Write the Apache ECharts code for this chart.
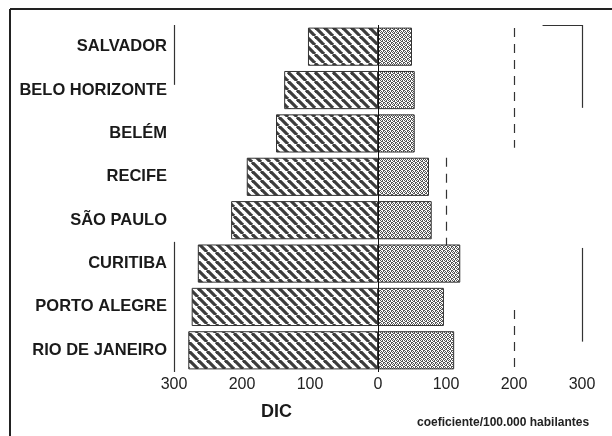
<!DOCTYPE html>
<html>
<head>
<meta charset="utf-8">
<script src="https://cdn.jsdelivr.net/npm/echarts@6/dist/echarts.min.js"></script>
<style>
  html, body { margin: 0; padding: 0; background: #fff; }
  #chart { width: 612px; height: 436px; }
</style>
</head>
<body>
<div id="chart"></div>
<script>
// dados
var cities = ["SALVADOR", "BELO HORIZONTE", "BELÉM", "RECIFE", "SÃO PAULO", "CURITIBA", "PORTO ALEGRE", "RIO DE JANEIRO"];
var dicValues = [103, 138, 150, 193, 216, 265, 274, 279];
var coefValues = [50, 54, 54, 75, 79, 121, 97, 112];
var xTicks = [-300, -200, -100, 0, 100, 200, 300];
// guias verticais: [x, inicio, fim] em unidades de categoria (0..8)
var dashedGuides = [[200, 0.07, 2.83], [200, 6.57, 8], [100, 3.06, 5.07]];
var solidGuides = [[300, 0, 1.91], [300, 5.14, 7.3], [-300, 0, 1.38], [-300, 5.0, 8]];

function hatchPattern() {
  var c = document.createElement("canvas");
  c.width = 9; c.height = 9;
  var ctx = c.getContext("2d");
  ctx.fillStyle = "#fff";
  ctx.fillRect(0, 0, 9, 9);
  ctx.strokeStyle = "#3c3c3c";
  ctx.lineWidth = 3.2;
  [-9, 0, 9].forEach(function (k) {
    ctx.beginPath();
    ctx.moveTo(k, 0);
    ctx.lineTo(k + 9, 9);
    ctx.stroke();
  });
  return c;
}

function stipplePattern() {
  var c = document.createElement("canvas");
  c.width = 4; c.height = 4;
  var ctx = c.getContext("2d");
  ctx.fillStyle = "#fff";
  ctx.fillRect(0, 0, 4, 4);
  ctx.fillStyle = "#555";
  [[0, 0], [2, 0], [1, 1], [3, 2], [2, 1], [0, 2], [1, 3], [3, 3]].forEach(function (p) {
    ctx.fillRect(p[0], p[1], 1, 1);
  });
  return c;
}

var guideData = [];
dashedGuides.forEach(function (g) {
  guideData.push([{ coord: [g[0], g[1]], lineStyle: { type: [9, 7] } }, { coord: [g[0], g[2]] }]);
});
solidGuides.forEach(function (g) {
  guideData.push([{ coord: [g[0], g[1]], lineStyle: { type: "solid" } }, { coord: [g[0], g[2]] }]);
});
guideData.push([{ coord: [242, 0], lineStyle: { type: "solid" } }, { coord: [300, 0] }]);

var myChart = echarts.init(document.getElementById("chart"));
myChart.setOption({
  animation: false,
  backgroundColor: "#fff",
  grid: { left: 174, right: 30, top: 25, bottom: 64 },
  xAxis: {
    type: "value",
    min: xTicks[0],
    max: xTicks[xTicks.length - 1],
    interval: 100,
    axisLine: { show: false },
    axisTick: { show: false },
    splitLine: { show: false },
    axisLabel: {
      margin: 5,
      fontSize: 16,
      fontFamily: "Liberation Sans",
      color: "#222",
      formatter: function (v) { return Math.abs(v); }
    }
  },
  yAxis: [
    {
      type: "category",
      data: cities,
      inverse: true,
      axisLine: { show: false },
      axisTick: { show: false },
      axisLabel: {
        margin: 7,
        fontSize: 16.5,
        fontWeight: "bold",
        fontFamily: "Liberation Sans",
        color: "#1a1a1a"
      }
    },
    { type: "value", min: 0, max: 8, inverse: true, show: false }
  ],
  series: [
    {
      name: "DIC",
      type: "bar",
      data: dicValues.map(function (v) { return -v; }),
      barGap: "-100%",
      barCategoryGap: "12%",
      itemStyle: {
        color: { image: hatchPattern(), repeat: "repeat" },
        borderColor: "#333",
        borderWidth: 1
      },
      markLine: {
        silent: true,
        symbol: "none",
        label: { show: false },
        lineStyle: { color: "#111", width: 1, type: "solid" },
        data: [{ xAxis: 0 }]
      }
    },
    {
      name: "coeficiente",
      type: "bar",
      data: coefValues,
      itemStyle: {
        color: { image: stipplePattern(), repeat: "repeat" },
        borderColor: "#333",
        borderWidth: 1
      }
    },
    {
      name: "guias",
      type: "line",
      yAxisIndex: 1,
      data: [],
      markLine: {
        silent: true,
        symbol: "none",
        label: { show: false },
        lineStyle: { color: "#333", width: 1.2 },
        data: guideData
      }
    }
  ],
  graphic: [
    { type: "line", shape: { x1: 10, y1: 9, x2: 612, y2: 9 }, style: { stroke: "#222", lineWidth: 2 } },
    { type: "line", shape: { x1: 10, y1: 9, x2: 10, y2: 436 }, style: { stroke: "#222", lineWidth: 2 } },
    {
      type: "text", left: 261, top: 403,
      style: { text: "DIC", font: "bold 18px 'Liberation Sans'", fill: "#1a1a1a" }
    },
    {
      type: "text", left: 417, top: 417,
      style: { text: "coeficiente/100.000 habilantes", font: "bold 12px 'Liberation Sans'", fill: "#222" }
    }
  ]
});
</script>
</body>
</html>
